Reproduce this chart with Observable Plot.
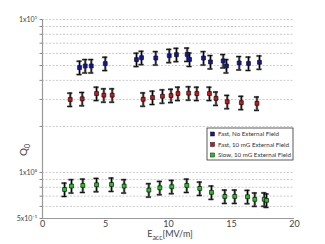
<!DOCTYPE html>
<html>
<head>
<meta charset="utf-8">
<script src="https://cdn.jsdelivr.net/npm/d3@7"></script>
<script src="https://cdn.jsdelivr.net/npm/@observablehq/plot@0.6"></script>
<style>
  html, body { margin: 0; padding: 0; background: #fff; }
  #chart svg { display: block; }
</style>
</head>
<body>
<div id="chart"></div>
<script>
// ---- data ----
const seriesNames = ["Fast, No External Field", "Fast, 10 mG External Field", "Slow, 10 mG External Field"];
const seriesColors = ["#1212b0", "#d41414", "#14d014"];

const fastNoFieldE = [2.94, 3.39, 3.87, 4.98, 7.46, 7.86, 8.99, 10.06, 10.63, 11.48, 11.67, 12.78, 13.33, 14.34, 14.6, 15.61, 16.35, 17.22];
const fastNoFieldQ = [4.85, 4.97, 4.97, 5.15, 5.47, 5.63, 5.60, 5.80, 5.89, 5.91, 5.48, 5.60, 5.28, 5.36, 4.97, 5.20, 5.16, 5.25];

const fast10mGE = [2.20, 3.15, 4.29, 4.87, 5.53, 7.99, 8.73, 9.52, 10.2, 10.75, 11.6, 12.25, 13.25, 13.77, 14.66, 15.78, 17.02];
const fast10mGQ = [3.00, 3.03, 3.28, 3.20, 3.20, 3.01, 3.09, 3.15, 3.18, 3.28, 3.30, 3.28, 3.28, 3.05, 2.90, 2.86, 2.83];

const slow10mGE = [1.75, 2.30, 3.20, 4.29, 5.48, 6.48, 8.44, 9.31, 10.26, 11.45, 12.48, 13.41, 14.47, 15.26, 16.27, 16.85, 17.6, 17.78];
const slow10mGQ = [0.774, 0.815, 0.822, 0.831, 0.835, 0.815, 0.767, 0.794, 0.807, 0.822, 0.786, 0.741, 0.697, 0.697, 0.694, 0.667, 0.668, 0.657];

const relError = 0.10;

const xTicks = [0, 5, 10, 15, 20];
const yDomain = [0.5, 10];
const yGridValues = [0.5, 0.6, 0.7, 0.8, 0.9, 1, 2, 3, 4, 5, 6, 7, 8, 9, 10];
const yLabelValues = [0.5, 1, 10];
const yLabelTexts = ["5x10\u207B\u00B9", "1x10\u2070", "1x10\u00B9"];

// ---- build table ----
const groups = [[fastNoFieldE, fastNoFieldQ], [fast10mGE, fast10mGQ], [slow10mGE, slow10mGQ]];
const data = groups.flatMap(([E, Q], i) => E.map((e, j) => ({
  series: seriesNames[i], E: e, Q: Q[j], lo: Q[j] * (1 - relError), hi: Q[j] * (1 + relError)
})));
const labelMap = new Map(yLabelValues.map((v, i) => [v, yLabelTexts[i]]));
const capHalf = 0.2;

const font = "Lato, 'DejaVu Sans', sans-serif";

const chart = Plot.plot({
  width: 325,
  height: 244,
  marginLeft: 42,
  marginRight: 31,
  marginTop: 19,
  marginBottom: 26,
  style: { fontFamily: font, fontSize: "8px", color: "#444", background: "#fff" },
  x: { domain: [0, 20] },
  y: { type: "log", domain: yDomain },
  color: { domain: seriesNames, range: seriesColors },
  marks: [
    Plot.gridY(yGridValues.filter(v => v > 0.5), { stroke: "#cccccc", strokeOpacity: 1, strokeDasharray: "2,1.5" }),
    Plot.axisX({ ticks: xTicks, tickSize: 0, tickPadding: 2, fontSize: 9, label: null }),
    Plot.axisY({ ticks: yGridValues, tickSize: 2.5, tickPadding: 3, stroke: "#888",
      tickFormat: d => labelMap.get(d) ?? "", fontSize: 7, label: null }),
    Plot.ruleX([0], { stroke: "#999", strokeWidth: 1.2 }),
    Plot.ruleY([0.5], { stroke: "#999", strokeWidth: 1.2 }),
    // error bars: gray halo + black core
    Plot.ruleX(data, { x: "E", y1: "lo", y2: "hi", stroke: "#8a8a8a", strokeWidth: 2.6 }),
    Plot.ruleY(data, { x1: d => d.E - capHalf, x2: d => d.E + capHalf, y: "hi", stroke: "#8a8a8a", strokeWidth: 2.2 }),
    Plot.ruleY(data, { x1: d => d.E - capHalf, x2: d => d.E + capHalf, y: "lo", stroke: "#8a8a8a", strokeWidth: 2.2 }),
    Plot.ruleX(data, { x: "E", y1: "lo", y2: "hi", stroke: "#000", strokeWidth: 1 }),
    Plot.ruleY(data, { x1: d => d.E - capHalf, x2: d => d.E + capHalf, y: "hi", stroke: "#000", strokeWidth: 0.9 }),
    Plot.ruleY(data, { x1: d => d.E - capHalf, x2: d => d.E + capHalf, y: "lo", stroke: "#000", strokeWidth: 0.9 }),
    Plot.dot(data, { x: "E", y: "Q", fill: "series", symbol: "square", r: 2.2, stroke: "#111", strokeWidth: 0.7 })
  ]
});

const svg = d3.select(chart);

// x label: E_acc[MV/m]
const xl = svg.append("text")
  .attr("x", 170).attr("y", 237)
  .attr("text-anchor", "middle")
  .attr("font-family", font).attr("font-size", 9).attr("fill", "#444");
xl.append("tspan").text("E");
xl.append("tspan").attr("dy", 3).attr("font-size", 7).text("acc");
xl.append("tspan").attr("dy", -3).text("[MV/m]");

// y label: Q0 rotated
const yl = svg.append("text")
  .attr("transform", "translate(27,150) rotate(-90)")
  .attr("text-anchor", "middle")
  .attr("font-family", font).attr("font-size", 10).attr("fill", "#444");
yl.append("tspan").text("Q");
yl.append("tspan").attr("dy", 3).attr("font-size", 7).text("0");

// legend
const lg = svg.append("g").attr("transform", "translate(207,128)");
lg.append("rect").attr("width", 86).attr("height", 32).attr("fill", "#fff").attr("stroke", "#333").attr("stroke-width", 0.8);
seriesNames.forEach((name, i) => {
  const y = 6 + i * 10.5;
  lg.append("rect").attr("x", 3.5).attr("y", y - 2).attr("width", 4).attr("height", 4)
    .attr("fill", seriesColors[i]).attr("stroke", "#111").attr("stroke-width", 0.5);
  lg.append("text").attr("x", 11).attr("y", y + 2.2)
    .attr("text-anchor", "start")
    .attr("font-family", font).attr("font-size", 6.2).attr("fill", "#333").text(name);
});

document.getElementById("chart").appendChild(chart);
</script>
</body>
</html>
